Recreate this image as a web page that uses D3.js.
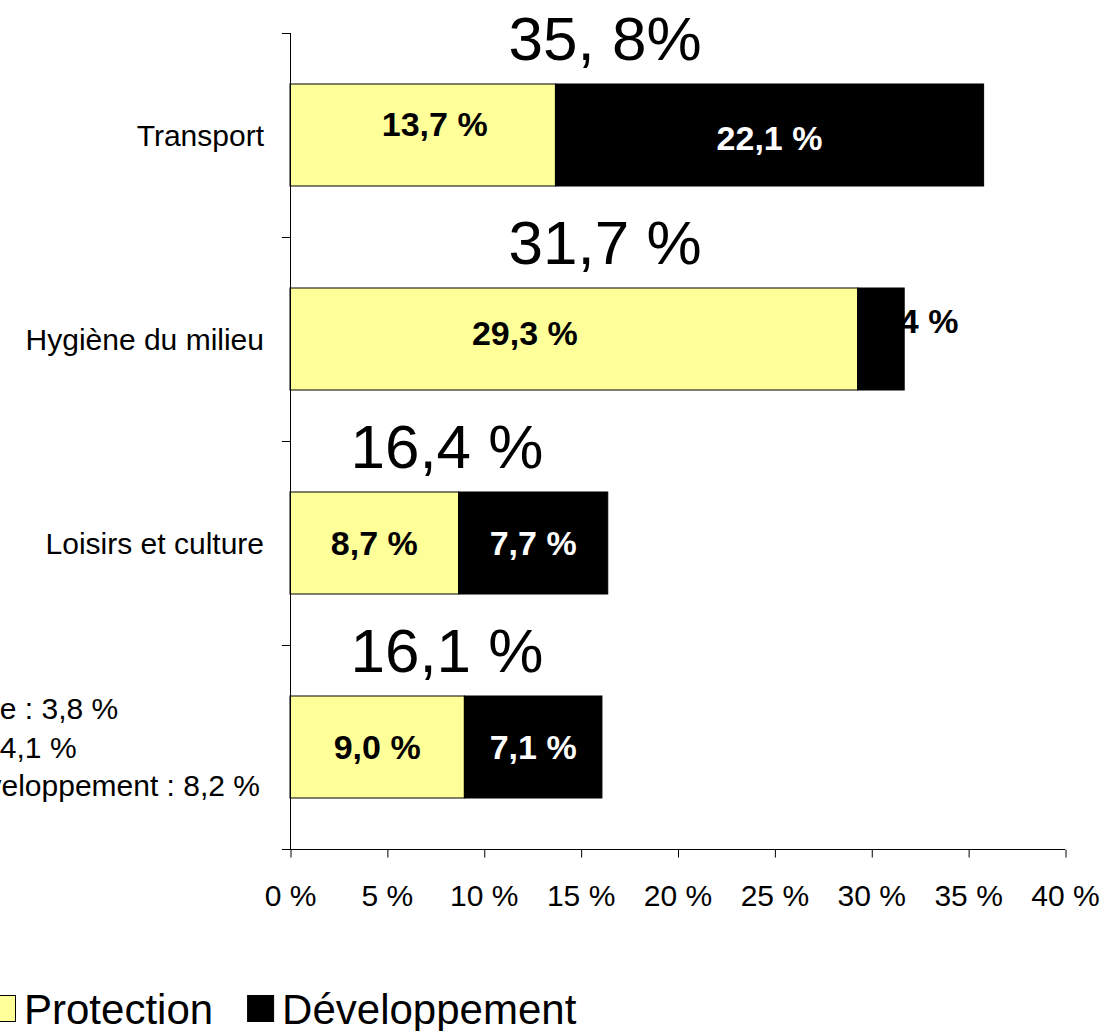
<!DOCTYPE html>
<html>
<head>
<meta charset="utf-8">
<script src="https://cdn.jsdelivr.net/npm/d3@7"></script>
<style>
  html, body { margin: 0; padding: 0; background: #fff; }
  svg { display: block; font-family: "Liberation Sans", Arial, sans-serif; }
</style>
</head>
<body>
<svg id="chart" width="1104" height="1031"></svg>
<script>
'use strict';

// categories (a label may span several lines)
const categories = [
    ['Transport'],
    ['Hygiène du milieu'],
    ['Loisirs et culture'],
    ['Administration générale : 3,8 %', 'Sécurité publique : 4,1 %', 'Aménagement, urbanisme et développement : 8,2 %']
];
const protection    = [13.7, 29.3, 8.7, 9.0];
const developpement = [22.1, 2.4, 7.7, 7.1];
const totalLabels   = ['35, 8%', '31,7 %', '16,4 %', '16,1 %'];
const series = ['Protection', 'Développement'];
const xTicks = [0, 5, 10, 15, 20, 25, 30, 35, 40];

const colours = {
    'Protection': '#ffff99',
    'Développement': '#000000'
};

const svg = d3.select('#chart');
svg.append('rect').attr('width', 1104).attr('height', 1031).attr('fill', '#fff');

const plot = {left: 290, right: 1065, top: 33, bottom: 849};

const x = d3.scaleLinear().domain([0, 40]).range([plot.left, plot.right]);
const y = d3.scaleBand()
    .domain(d3.range(categories.length))
    .range([plot.top, plot.bottom])
    .paddingInner(0.5)
    .paddingOuter(0.25);
const step = y.step();
const bandTop = (i) => plot.top + i * step;

const fmt = (v) => d3.format('.1f')(v).replace('.', ',') + ' %';

// hand placed labels in the original (dx, dy in px)
const nudge = {
    '0-Protection': [12, -11],
    '0-Développement': [0, 3],
    '1-Protection': [-49, -6],
    '1-Développement': [34, -18]
};

// stacked rows
const rows = categories.map((c, i) => ({
    i: i,
    parts: [
        {key: 'Protection', x0: 0, x1: protection[i], v: protection[i]},
        {key: 'Développement', x0: protection[i], x1: protection[i] + developpement[i], v: developpement[i]}
    ]
}));

const bars = svg.append('g');
rows.forEach((row) => {
    bars.selectAll(null)
        .data(row.parts)
        .enter()
        .append('rect')
        .attr('x', (d) => x(d.x0))
        .attr('y', y(row.i))
        .attr('width', (d) => x(d.x1) - x(d.x0))
        .attr('height', y.bandwidth())
        .attr('fill', (d) => colours[d.key])
        .attr('stroke', '#000')
        .attr('stroke-width', 1);
});

// value labels inside bars
rows.forEach((row) => {
    bars.selectAll(null)
        .data(row.parts)
        .enter()
        .append('text')
        .attr('x', (d) => (x(d.x0) + x(d.x1)) / 2 + (nudge[row.i + '-' + d.key] || [0, 0])[0])
        .attr('y', (d) => y(row.i) + y.bandwidth() / 2 + (nudge[row.i + '-' + d.key] || [0, 0])[1])
        .attr('dy', '0.36em')
        .attr('text-anchor', 'middle')
        .attr('font-size', 34)
        .attr('font-weight', 'bold')
        .attr('fill', (d) => {
            // the 2,4 % label spills out of its small segment and stays black
            if (d.key === 'Protection' || x(d.x1) - x(d.x0) < 80) return '#000';
            return '#fff';
        })
        .text((d) => fmt(d.v));
});

// big totals above each bar
const totalAt = [16.26, 16.26, 8.1, 8.1];
svg.append('g').selectAll('text')
    .data(totalLabels)
    .enter()
    .append('text')
    .attr('x', (d, i) => x(totalAt[i]))
    .attr('y', (d, i) => bandTop(i) + 27)
    .attr('text-anchor', 'middle')
    .attr('font-size', 62)
    .attr('fill', '#000')
    .text((d) => d);

// y axis
const yAxis = svg.append('g').attr('stroke', '#000').attr('stroke-width', 1);
yAxis.append('line')
    .attr('x1', plot.left + 0.5).attr('x2', plot.left + 0.5)
    .attr('y1', plot.top).attr('y2', plot.bottom);
yAxis.selectAll('line.tick')
    .data(d3.range(categories.length + 1))
    .enter()
    .append('line')
    .attr('class', 'tick')
    .attr('x1', plot.left - 8).attr('x2', plot.left)
    .attr('y1', (i) => bandTop(i) + 0.5)
    .attr('y2', (i) => bandTop(i) + 0.5);

// category labels, multi-line ones centred line by line like Excel does
// (the long one runs off the left edge, as in the original)
const labelRight = 264;
const lineGap = 38.5;
categories.forEach((lines, i) => {
    const g = svg.append('g');
    const cy = y(i) + y.bandwidth() / 2;
    const texts = lines.map((l, k) => g.append('text')
        .attr('y', cy + (k - (lines.length - 1) / 2) * lineGap)
        .attr('dy', '0.36em')
        .attr('font-size', 30)
        .attr('fill', '#000')
        .text(l));
    const widest = d3.max(texts, (t) => t.node().getComputedTextLength());
    texts.forEach((t) => {
        t.attr('text-anchor', lines.length > 1 ? 'middle' : 'end')
         .attr('x', lines.length > 1 ? labelRight - 4 - widest / 2 : labelRight);
    });
});

// x axis
const xAxis = svg.append('g')
    .attr('transform', `translate(0, ${plot.bottom + 0.5})`)
    .call(d3.axisBottom(x).tickValues(xTicks).tickSize(8).tickSizeOuter(0).tickFormat((d) => d + ' %'));
xAxis.select('.domain').remove();
xAxis.append('line')
    .attr('x1', plot.left - 8).attr('x2', plot.right)
    .attr('stroke', '#000');
xAxis.selectAll('.tick line').attr('stroke', '#000').attr('transform', 'translate(0.5,0)');
xAxis.selectAll('.tick text')
    .attr('y', 56)
    .attr('dy', 0)
    .attr('font-size', 30)
    .attr('font-family', '"Liberation Sans", Arial, sans-serif')
    .attr('fill', '#000');

// legend
const legend = svg.append('g');
let lx = -11;
series.forEach((s) => {
    legend.append('rect')
        .attr('x', lx + 0.5).attr('y', 995.5)
        .attr('width', 26).attr('height', 26)
        .attr('fill', colours[s])
        .attr('stroke', '#000');
    const t = legend.append('text')
        .attr('x', lx + 35)
        .attr('y', 1024)
        .attr('font-size', 42)
        .attr('fill', '#000')
        .text(s);
    lx += 35 + t.node().getComputedTextLength() + 34;
});
</script>
</body>
</html>
